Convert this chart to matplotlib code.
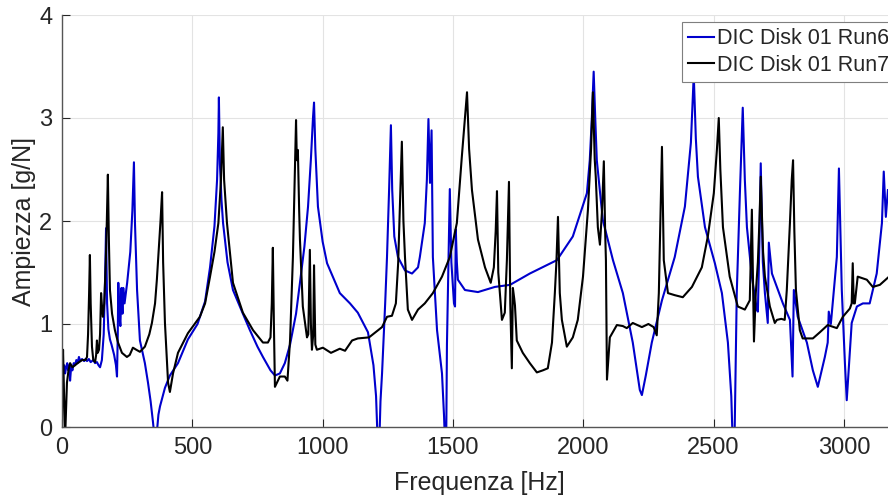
import matplotlib
matplotlib.use("Agg")
import matplotlib.pyplot as plt

# Run6 (blue) - frequency [Hz] and amplitude [g/N]
f_run6 = [0, 4, 8, 12, 16, 20, 24, 28, 31, 35, 40, 45, 50, 55, 60, 65, 70, 77,
          85, 90, 96, 103, 110, 120, 127, 134, 140, 146, 153, 160, 165, 169, 173,
          178, 184, 190, 200, 207, 211, 214, 216, 220, 224, 228, 232, 235, 240,
          250, 262, 270, 276, 280, 288, 299, 318, 330, 340, 349, 355, 364,
          370, 376, 395, 414, 445, 483, 520, 549, 568, 585, 595, 600, 602, 606,
          612, 618, 635, 656, 694, 721, 750, 771, 800, 817, 836, 855, 875, 898,
          913, 930, 944, 955, 963, 967, 972, 982, 1000, 1017, 1066, 1105, 1135,
          1174, 1195, 1205, 1212, 1217, 1222, 1228, 1240, 1247, 1255, 1262, 1267,
          1275, 1289, 1316, 1343, 1366, 1373, 1392, 1400, 1406, 1412, 1418, 1423,
          1439, 1458, 1466, 1470, 1474, 1477, 1481, 1488, 1494, 1504, 1508, 1511,
          1515, 1519, 1546, 1596, 1661, 1719, 1795, 1899, 1960, 2014, 2025, 2033,
          2040, 2046, 2052, 2075, 2114, 2152, 2190, 2217, 2225, 2240, 2263, 2302,
          2351, 2390, 2413, 2424, 2432, 2440, 2467, 2505, 2532, 2555, 2568, 2574,
          2580, 2589, 2601, 2612, 2620, 2628, 2647, 2666, 2670, 2676, 2681, 2689,
          2697, 2708, 2712, 2724, 2766, 2793, 2803, 2808, 2823, 2858, 2881, 2900,
          2927, 2938, 2942, 2950, 2973, 2981, 2992, 3004, 3011, 3030, 3050, 3073,
          3099, 3126, 3146, 3153, 3161, 3169]
a_run6 = [0.38, 0.55, 0.60, 0.52, 0.58, 0.62, 0.55, 0.60, 0.45, 0.58, 0.55, 0.62,
          0.60, 0.65, 0.62, 0.68, 0.64, 0.66, 0.64, 0.66, 0.64, 0.66, 0.63, 0.65,
          0.62, 0.63, 0.60, 0.58, 0.65, 0.90, 1.40, 1.93, 1.20, 0.95, 0.85, 0.80,
          0.70, 0.60, 0.49, 0.90, 1.40, 1.10, 0.98, 1.35, 1.10, 1.35, 1.20, 1.40,
          1.70, 2.10, 2.57, 1.98, 1.33, 0.84, 0.62, 0.43, 0.25, 0.05, -0.10,
          -0.05, 0.12, 0.20, 0.38, 0.50, 0.62, 0.85, 1.00, 1.22, 1.55, 1.95, 2.40,
          2.85, 3.20, 2.55, 2.20, 1.98, 1.60, 1.33, 1.10, 0.94, 0.78, 0.68, 0.55,
          0.50, 0.52, 0.62, 0.80, 1.10, 1.40, 1.75, 2.14, 2.60, 3.00, 3.15, 2.70,
          2.14, 1.80, 1.59, 1.30, 1.20, 1.11, 0.92, 0.60, 0.30, -0.20, -0.20, 0.25,
          0.52, 1.20, 1.65, 2.30, 2.93, 2.30, 1.85, 1.65, 1.52, 1.49, 1.55, 1.65,
          1.98, 2.40, 2.99, 2.37, 2.88, 1.65, 0.94, 0.52, 0.10, -0.20, -0.20, 0.80,
          1.33, 2.31, 1.60, 1.20, 1.17, 1.92, 1.60, 1.43, 1.33, 1.31, 1.36, 1.38,
          1.49, 1.62, 1.85, 2.27, 2.59, 3.00, 3.45, 3.00, 2.59, 2.01, 1.62, 1.30,
          0.82, 0.36, 0.31, 0.50, 0.82, 1.23, 1.65, 2.14, 2.76, 3.42, 2.80, 2.43,
          1.94, 1.59, 1.30, 0.82, 0.30, -0.20, -0.20, 1.30, 2.27, 3.10, 2.40, 1.94,
          1.46, 1.14, 1.12, 1.80, 2.56, 1.60, 1.30, 1.01, 1.79, 1.49, 1.20, 1.04,
          0.49, 1.33, 1.07, 0.82, 0.55, 0.39, 0.68, 0.82, 1.12, 1.00, 1.65, 2.51,
          1.33, 0.62, 0.26, 1.01, 1.17, 1.20, 1.20, 1.49, 1.98, 2.48, 2.04, 2.30]

# Run7 (black)
f_run7 = [0, 2, 4, 8, 12, 16, 19, 25, 31, 40, 50, 60, 77, 90, 96, 100, 104, 107,
          110, 115, 120, 127, 131, 134, 137, 142, 146, 150, 154, 157, 162, 168,
          172, 176, 180, 184, 192, 203, 215, 230, 249, 260, 272, 285, 299, 318,
          335, 345, 357, 364, 372, 378, 384, 388, 395, 407, 414, 426, 445, 483,
          529, 549, 568, 585, 600, 610, 617, 622, 633, 656, 694, 733, 771, 790,
          800, 805, 809, 813, 817, 836, 855, 865, 875, 886, 893, 898, 901, 905,
          910, 913, 924, 940, 945, 951, 955, 959, 964, 967, 972, 978, 1001, 1032,
          1066, 1086, 1113, 1135, 1178, 1228, 1247, 1266, 1281, 1290, 1297, 1304,
          1310, 1316, 1327, 1343, 1366, 1392, 1423, 1458, 1488, 1515, 1534, 1546,
          1554, 1562, 1573, 1596, 1623, 1645, 1657, 1664, 1669, 1674, 1680, 1688,
          1699, 1707, 1715, 1720, 1726, 1730, 1735, 1738, 1745, 1768, 1795, 1822,
          1845, 1864, 1880, 1891, 1897, 1903, 1910, 1918, 1937, 1960, 1979, 1999,
          2018, 2030, 2037, 2044, 2048, 2056, 2064, 2072, 2079, 2084, 2087, 2091,
          2102, 2129, 2152, 2167, 2190, 2225, 2250, 2270, 2282, 2290, 2296, 2302,
          2309, 2325, 2351, 2382, 2417, 2455, 2478, 2501, 2513, 2520, 2526, 2536,
          2562, 2593, 2620, 2639, 2647, 2655, 2662, 2670, 2676, 2681, 2690, 2697,
          2716, 2735, 2743, 2760, 2773, 2781, 2793, 2800, 2805, 2810, 2816, 2831,
          2842, 2881, 2908, 2938, 2973, 2996, 3023, 3030, 3034, 3038, 3042, 3053,
          3088, 3111, 3138, 3169]
a_run7 = [-0.10, 0.50, 0.75, 0.30, -0.10, 0.20, 0.43, 0.55, 0.62, 0.58, 0.60,
          0.62, 0.65, 0.65, 0.68, 0.90, 1.30, 1.67, 1.20, 0.78, 0.65, 0.63, 0.70,
          0.84, 0.72, 0.75, 0.90, 1.30, 1.15, 1.07, 1.20, 1.60, 2.00, 2.45, 1.80,
          1.33, 1.10, 0.94, 0.82, 0.72, 0.68, 0.70, 0.77, 0.75, 0.73, 0.78, 0.90,
          1.01, 1.20, 1.43, 1.75, 2.00, 2.28, 1.60, 1.01, 0.43, 0.34, 0.52, 0.72,
          0.91, 1.07, 1.20, 1.46, 1.70, 1.98, 2.40, 2.91, 2.40, 1.98, 1.40, 1.11,
          0.94, 0.82, 0.82, 0.87, 1.20, 1.74, 1.00, 0.39, 0.49, 0.49, 0.45, 0.84,
          1.65, 2.40, 2.98, 2.59, 2.69, 2.10, 1.82, 1.17, 0.87, 0.90, 1.72, 1.00,
          0.75, 0.90, 1.57, 0.80, 0.75, 0.77, 0.72, 0.76, 0.74, 0.84, 0.86, 0.87,
          0.97, 1.07, 1.08, 1.20, 1.60, 2.20, 2.77, 2.00, 1.65, 1.14, 1.04, 1.14,
          1.20, 1.30, 1.46, 1.65, 1.98, 2.62, 3.00, 3.25, 2.70, 2.30, 1.82, 1.55,
          1.40, 1.55, 1.90, 2.29, 1.50, 1.30, 1.04, 1.11, 1.62, 2.38, 1.20, 0.57,
          1.35, 1.25, 1.18, 0.84, 0.72, 0.62, 0.53, 0.55, 0.57, 0.82, 1.30, 1.60,
          2.04, 1.30, 1.04, 0.78, 0.87, 1.04, 1.46, 2.11, 2.70, 3.25, 2.60, 2.43,
          1.94, 1.77, 2.10, 2.58, 1.90, 1.62, 0.46, 0.87, 0.99, 0.98, 0.96, 1.01,
          0.97, 1.00, 0.97, 0.89, 1.30, 2.00, 2.72, 1.62, 1.30, 1.28, 1.26, 1.36,
          1.55, 1.85, 2.27, 2.70, 3.00, 2.50, 1.94, 1.46, 1.17, 1.14, 1.23, 2.11,
          0.83, 1.30, 1.60, 2.00, 2.43, 1.70, 1.46, 1.17, 1.01, 1.04, 1.05, 1.04,
          1.33, 1.98, 2.40, 2.59, 1.90, 1.33, 0.94, 0.86, 0.86, 0.92, 0.99, 0.96,
          1.07, 1.15, 1.20, 1.59, 1.20, 1.20, 1.46, 1.43, 1.36, 1.38, 1.45]

x_ticks = [0, 500, 1000, 1500, 2000, 2500, 3000]
y_ticks = [0, 1, 2, 3, 4]

plt.rcParams["font.family"] = ["Liberation Sans", "DejaVu Sans"]
txt = "#262626"

fig = plt.figure(figsize=(8.88, 5.0), dpi=100)
ax = fig.add_axes([62 / 888, 73 / 500, 834 / 888, 412 / 500])

ax.plot(f_run6, a_run6, color="#0000cd", lw=1.5, label="DIC Disk 01 Run6")
ax.plot(f_run7, a_run7, color="black", lw=1.5, label="DIC Disk 01 Run7")

ax.set_xlim(0, 3200)
ax.set_ylim(0, 4)
ax.set_xticks(x_ticks)
ax.set_yticks(y_ticks)
ax.tick_params(direction="in", length=6, labelsize=17, colors=txt, pad=7)
ax.grid(True, color="#e3e3e3", lw=0.8)
ax.set_axisbelow(True)
for s in ("top", "right"):
    ax.spines[s].set_visible(False)
for s in ("left", "bottom"):
    ax.spines[s].set_color("#555555")
    ax.spines[s].set_linewidth(1.0)

ax.set_xlabel("Frequenza [Hz]", fontsize=18, color=txt, labelpad=9)
ax.set_ylabel("Ampiezza [g/N]", fontsize=18, color=txt, labelpad=2)

leg = ax.legend(loc="upper left", bbox_to_anchor=(682 / 888, 1 - 22 / 500),
                bbox_transform=fig.transFigure, fontsize=15.5, frameon=True,
                fancybox=False, edgecolor="#7f7f7f", framealpha=1,
                borderpad=0.3, borderaxespad=0, handlelength=1.2,
                handletextpad=0.12, labelspacing=0.25)
leg.get_frame().set_linewidth(0.8)
for t in leg.get_texts():
    t.set_color(txt)

fig.savefig("out.png", dpi=100)
